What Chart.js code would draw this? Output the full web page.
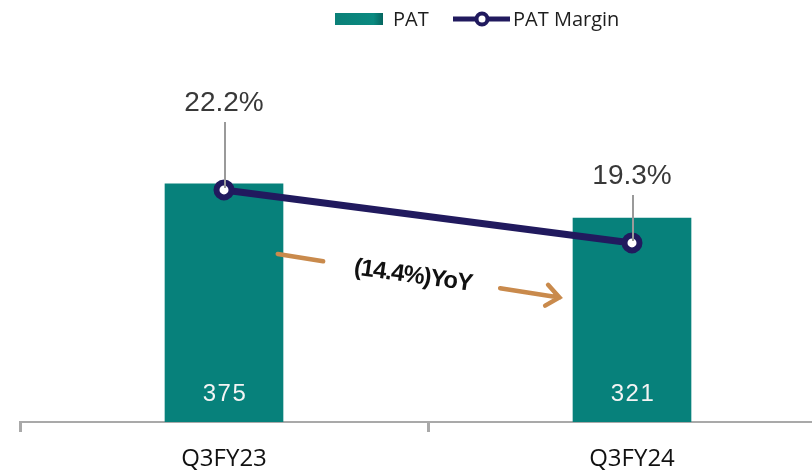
<!DOCTYPE html>
<html><head><meta charset="utf-8">
<script src="https://cdn.jsdelivr.net/npm/chart.js@4"></script>
<style>html,body{margin:0;padding:0;background:#fff;overflow:hidden;width:812px;height:471px}canvas{display:block}</style>
</head><body><canvas id="c" width="850" height="486"></canvas>
<script>
// ---- data ----
const categories = ['Q3FY23', 'Q3FY24'];
const patValues = [375, 321];
const marginValues = [22.2, 19.3];
const marginLabels = ['22.2%', '19.3%'];
const legendLabels = ['PAT', 'PAT Margin'];
const yoyLabel = '(14.4%)YoY';

const TEAL = '#07817B';
const NAVY = '#211A5E';
const ARROW = '#C98A4C';
const GREY = '#A9A9A9';

const labelsPlugin = {
  id: 'labels',
  afterDatasetsDraw(chart) {
    const ctx = chart.ctx;
    const yS = chart.scales.y;
    const barMeta = chart.getDatasetMeta(0);
    ctx.save();
    ctx.fillStyle = '#F4F4F4';
    ctx.font = '24px "Liberation Sans", Arial, sans-serif';
    ctx.textAlign = 'center';
    ctx.textBaseline = 'middle';
    try { ctx.letterSpacing = '1.5px'; } catch (e) {}
    barMeta.data.forEach((el, i) => {
      ctx.fillText(String(patValues[i]), el.x + 1, yS.getPixelForValue(0) - 28);
    });
    ctx.restore();

    const lineMeta = chart.getDatasetMeta(1);
    const offsets = [87, 67];
    ctx.save();
    lineMeta.data.forEach((el, i) => {
      const ly = el.y - offsets[i];
      ctx.strokeStyle = '#9A9A9A';
      ctx.lineWidth = 2;
      ctx.beginPath();
      ctx.moveTo(el.x + 1, ly + 19);
      ctx.lineTo(el.x + 1, el.y - 2);
      ctx.stroke();
      ctx.fillStyle = '#383838';
      ctx.font = '28px "Liberation Sans", Arial, sans-serif';
      ctx.textAlign = 'center';
      ctx.textBaseline = 'middle';
      ctx.fillText(marginLabels[i], el.x, ly);
    });
    ctx.restore();
  }
};

const annotationPlugin = {
  id: 'yoy',
  afterDraw(chart) {
    const ctx = chart.ctx;
    const xS = chart.scales.x;
    const yS = chart.scales.y;
    const cx = (xS.getPixelForValue(0) + xS.getPixelForValue(1)) / 2 - 15;
    const cy = yS.getPixelForValue(230);
    ctx.save();
    ctx.translate(cx, cy);
    ctx.rotate(8 * Math.PI / 180);
    ctx.fillStyle = '#111';
    ctx.font = 'bold 24px "Liberation Sans", Arial, sans-serif';
    ctx.textAlign = 'center';
    ctx.textBaseline = 'middle';
    try { ctx.letterSpacing = '-1px'; } catch (e) {}
    ctx.fillText(yoyLabel, 0, 0);
    ctx.strokeStyle = ARROW;
    ctx.lineWidth = 4.5;
    ctx.lineCap = 'round';
    ctx.beginPath();
    ctx.moveTo(-137, -3); ctx.lineTo(-91, -2);
    ctx.moveTo(88, 0); ctx.lineTo(148, 1);
    ctx.moveTo(135, -10); ctx.lineTo(148, 1); ctx.lineTo(135, 11);
    ctx.stroke();
    ctx.restore();
  }
};

const legendPlugin = {
  id: 'customLegend',
  afterDraw(chart) {
    const ctx = chart.ctx;
    ctx.save();
    const g = ctx.createLinearGradient(335, 0, 383, 0);
    g.addColorStop(0, '#0B8078');
    g.addColorStop(0.8, '#0A8A80');
    g.addColorStop(1, '#06655F');
    ctx.fillStyle = g;
    ctx.fillRect(335, 13, 48, 12);
    ctx.fillStyle = '#1E1E1E';
    ctx.font = '20px "Open Sans", sans-serif';
    ctx.textBaseline = 'alphabetic';
    ctx.textAlign = 'left';
    ctx.fillText(legendLabels[0], 393, 26);
    ctx.strokeStyle = NAVY;
    ctx.lineWidth = 5;
    ctx.beginPath();
    ctx.moveTo(453, 19); ctx.lineTo(510, 19);
    ctx.stroke();
    ctx.beginPath();
    ctx.arc(482, 19, 5.5, 0, Math.PI * 2);
    ctx.fillStyle = '#fff';
    ctx.fill();
    ctx.lineWidth = 4;
    ctx.stroke();
    ctx.fillStyle = '#1E1E1E';
    ctx.fillText(legendLabels[1], 513, 26);
    ctx.restore();
  }
};

new Chart(document.getElementById('c'), {
  type: 'bar',
  data: {
    labels: categories,
    datasets: [
      {
        type: 'bar',
        label: legendLabels[0],
        data: patValues,
        backgroundColor: TEAL,
        barThickness: 118,
        yAxisID: 'y',
        order: 2
      },
      {
        type: 'line',
        label: legendLabels[1],
        data: marginValues,
        borderColor: NAVY,
        borderWidth: 7,
        pointRadius: 7.5,
        pointHoverRadius: 7.5,
        pointBorderWidth: 6,
        pointBackgroundColor: '#fff',
        pointBorderColor: NAVY,
        yAxisID: 'y2',
        order: 1,
        tension: 0
      }
    ]
  },
  options: {
    responsive: false,
    animation: false,
    events: [],
    layout: { padding: { top: 41, left: 20, right: 14, bottom: 0 } },
    plugins: { legend: { display: false }, tooltip: { enabled: false } },
    scales: {
      x: {
        offset: true,
        grid: { offset: true, drawOnChartArea: false, drawTicks: true, tickLength: 10, color: GREY, lineWidth: 3 },
        border: { display: true, color: GREY, width: 2 },
        ticks: { color: '#111', padding: 15, font: { family: '"Open Sans", sans-serif', size: 24, lineHeight: 1 } }
      },
      y: { display: false, min: 0, max: 600 },
      y2: { display: false, min: 9.5, max: 30.35 }
    }
  },
  plugins: [labelsPlugin, annotationPlugin, legendPlugin]
});
</script>
</body></html>
